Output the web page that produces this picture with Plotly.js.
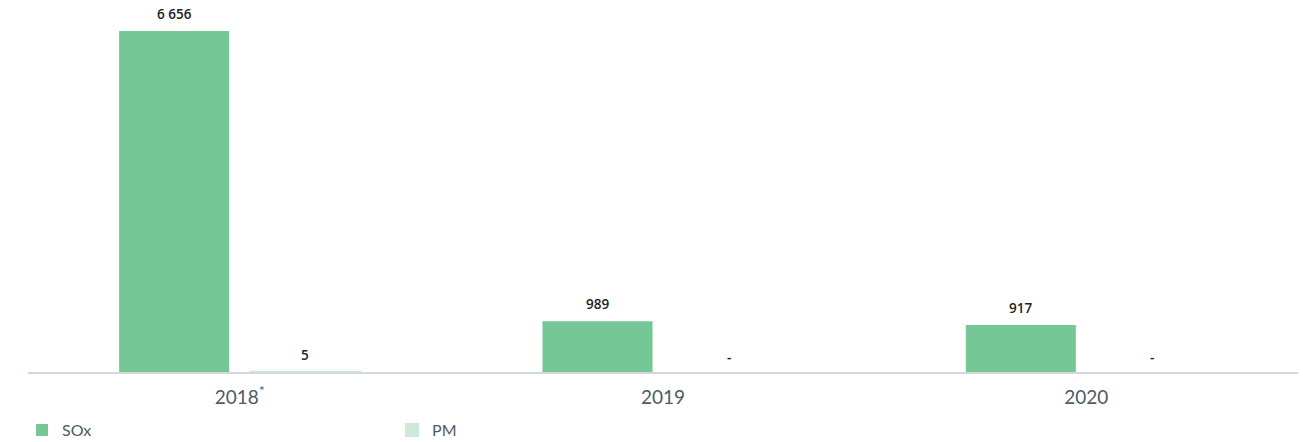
<!DOCTYPE html>
<html>
<head>
<meta charset="utf-8">
<script src="https://cdn.plot.ly/plotly-3.0.1.min.js"></script>
<style>html,body{margin:0;padding:0;background:#fff;}#chart{width:1303px;height:442px;}</style>
</head>
<body>
<div id="chart"></div>
<script>
const categories = ['2018', '2019', '2020'];
const tickLabels = ['2018<sup>*</sup>', '2019', '2020'];
const seriesNames = ['SOx', 'PM'];
const soxValues = [6656, 989, 917];
const pmValues = [5, 0, 0];

const colors = ['#75c795', '#cfe9d8'];

function fmt(v) {
  if (!v) return '-';
  return String(v).replace(/\B(?=(\d{3})+(?!\d))/g, ' ');
}

const series = [soxValues, pmValues];
const traces = series.map((vals, i) => ({
  type: 'bar',
  name: seriesNames[i],
  x: categories,
  y: vals,
  marker: {color: colors[i], line: {color: colors[i], width: vals.map(v => (i === 1 && v) ? 2 : 0)}},
  hoverinfo: 'skip'
}));

const annotations = [];
series.forEach((vals, i) => {
  vals.forEach((v, j) => {
    annotations.push({
      x: j, y: v, xref: 'x', yref: 'y',
      text: fmt(v), showarrow: false,
      xanchor: 'center', yanchor: 'bottom',
      xshift: i === 0 ? -65.5 : 65.5, yshift: v ? 6 : 4,
      font: {family: '"Open Sans", Arial, sans-serif', size: 13.5, color: '#222', weight: 600}
    });
  });
});

const maxVal = Math.max(...soxValues, ...pmValues);

const layout = {
  width: 1303, height: 442,
  margin: {l: 28, r: 5, t: 10, b: 70},
  paper_bgcolor: '#fff', plot_bgcolor: '#fff',
  barmode: 'group', bargap: 0.381, bargroupgap: 0.16,
  showlegend: true,
  legend: {
    orientation: 'h', xref: 'container', yref: 'container',
    x: 0.0169, xanchor: 'left', y: 0.027, yanchor: 'middle',
    entrywidth: 325, entrywidthmode: 'pixels',
    font: {family: 'Lato, "Open Sans", sans-serif', size: 16, color: '#4d5a66'},
    traceorder: 'normal'
  },
  xaxis: {
    type: 'category',
    categoryorder: 'array', categoryarray: categories,
    range: [-0.5, categories.length - 0.5], autorange: false,
    tickvals: categories, ticktext: tickLabels, tickangle: 0,
    ticklabelstandoff: 8,
    showline: true, linecolor: '#d3d8de', linewidth: 1.5,
    showgrid: false, zeroline: false, ticks: '',
    tickfont: {family: 'Lato, "Open Sans", sans-serif', size: 19, color: '#4d5a66'}
  },
  yaxis: {
    range: [0, maxVal * 1.0616], autorange: false,
    visible: false, showgrid: false, zeroline: false, fixedrange: true
  },
  annotations: annotations,
  font: {family: 'Lato, sans-serif'}
};

Plotly.newPlot('chart', traces, layout, {displayModeBar: false, staticPlot: true});
</script>
</body>
</html>
